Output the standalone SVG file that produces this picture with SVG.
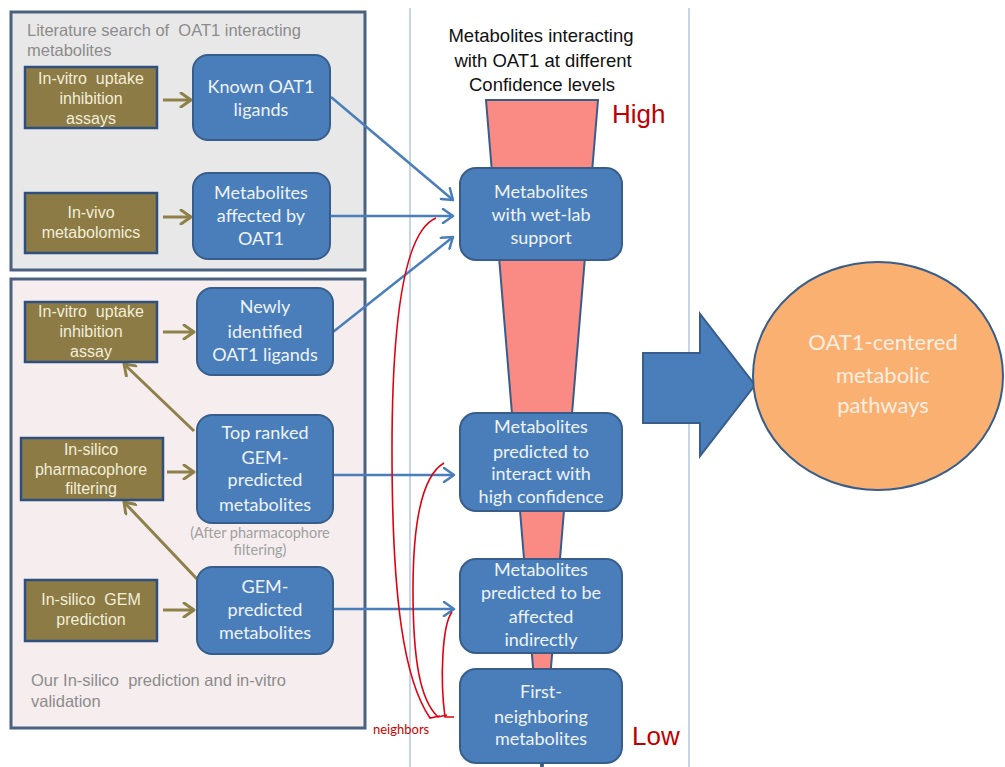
<svg xmlns="http://www.w3.org/2000/svg" width="1005" height="767" viewBox="0 0 1005 767">
<defs>
<style>
.panel{stroke:#4a6280;stroke-width:3}
.olive{fill:#8c7b45;stroke:#2f4f7f;stroke-width:2.5}
.blue{fill:#4a7ebb;stroke:#385d8a;stroke-width:2}
.ot{font-family:"Liberation Sans",Arial,sans-serif;font-size:16px;fill:#f2eed8;text-anchor:middle;white-space:pre}
.bt{font-family:Lato,"Open Sans",sans-serif;font-size:18px;fill:#eef3fa;text-anchor:middle}
.gt{font-family:"Liberation Sans",Arial,sans-serif;font-size:16.5px;fill:#8c8c8c;white-space:pre}
.ct{font-family:Lato,"Open Sans",sans-serif;font-size:14.5px;fill:#a0a0a0;text-anchor:middle}
.tt{font-family:"Liberation Sans",Arial,sans-serif;font-size:18.5px;fill:#111;text-anchor:middle}
.rt{font-family:"Liberation Sans",Arial,sans-serif;font-size:26px;fill:#c00000}
.pt{font-family:Lato,"Open Sans",sans-serif;font-size:22px;fill:#fdeee2;text-anchor:middle}
.oa{stroke:#8e8049;stroke-width:3;fill:none}
.ba{stroke:#4a7ebb;stroke-width:2.5;fill:none}
.rc{stroke:#e00010;stroke-width:1.6;fill:none}
.vl{stroke:#8eaacb;stroke-width:1}
</style>
<marker id="mo" markerUnits="userSpaceOnUse" markerWidth="14" markerHeight="16" viewBox="0 0 14 16" refX="12" refY="8" orient="auto">
<path d="M2,1 L12,8 L2,15" fill="none" stroke="#8e8049" stroke-width="3" stroke-linecap="round" stroke-linejoin="round"/>
</marker>
<marker id="mb" markerUnits="userSpaceOnUse" markerWidth="14" markerHeight="16" viewBox="0 0 14 16" refX="12" refY="8" orient="auto">
<path d="M2,1 L12,8 L2,15" fill="none" stroke="#4a7ebb" stroke-width="2.5" stroke-linecap="round" stroke-linejoin="round"/>
</marker>
</defs>
<rect width="1005" height="767" fill="#ffffff"/>

<g id="panels">
<rect id="panel-literature" class="panel" x="11" y="12" width="354" height="258" fill="#e8e8e8"/>
<rect id="panel-insilico" class="panel" x="11" y="279" width="354" height="449" fill="#f6eeee"/>
<text class="gt" x="27" y="36">Literature search of  OAT1 interacting</text>
<text class="gt" x="27" y="56">metabolites</text>
<text class="gt" x="31" y="686">Our In-silico  prediction and in-vitro</text>
<text class="gt" x="31" y="707">validation</text>
</g>

<g id="guides">
<line class="vl" x1="410" y1="8" x2="410" y2="767"/>
<line class="vl" x1="689" y1="8" x2="689" y2="767"/>
</g>

<g id="funnel">
<polygon points="486,100 598,100 542,776" fill="#f98a84" stroke="#385d8a" stroke-width="2"/>
</g>

<g id="title">
<text class="tt" x="541" y="42">Metabolites interacting</text>
<text class="tt" x="543" y="67">with OAT1 at different</text>
<text class="tt" x="542" y="91">Confidence levels</text>
<text class="rt" x="612" y="123">High</text>
<text class="rt" x="632" y="745">Low</text>
</g>

<g id="connectors">
<line class="oa" x1="163" y1="100" x2="191" y2="100" marker-end="url(#mo)"/>
<line class="oa" x1="163" y1="217" x2="191" y2="217" marker-end="url(#mo)"/>
<line class="oa" x1="163" y1="332" x2="194" y2="332" marker-end="url(#mo)"/>
<line class="oa" x1="167" y1="472" x2="194" y2="472" marker-end="url(#mo)"/>
<line class="oa" x1="163" y1="610" x2="194" y2="610" marker-end="url(#mo)"/>
<line class="oa" x1="194" y1="431" x2="124" y2="364" marker-end="url(#mo)"/>
<line class="oa" x1="197" y1="579" x2="124" y2="502" marker-end="url(#mo)"/>
<line class="ba" x1="331" y1="97" x2="453" y2="200" marker-end="url(#mb)"/>
<line class="ba" x1="331" y1="216" x2="453" y2="216" marker-end="url(#mb)"/>
<line class="ba" x1="333" y1="332" x2="453" y2="237" marker-end="url(#mb)"/>
<line class="ba" x1="333" y1="475" x2="454" y2="475" marker-end="url(#mb)"/>
<line class="ba" x1="333" y1="609" x2="454" y2="609" marker-end="url(#mb)"/>
<path class="rc" d="M436 218 C402 232 392 330 392 450 C392 600 404 680 430 718 L440 716"/>
<path class="rc" d="M444 463 C420 477 413 530 413 590 C413 660 420 700 438 717 L447 715"/>
<path class="rc" d="M452 612 C442 625 440 680 445 717 L454 717"/>
<text x="373" y="734" font-family="Lato,'Open Sans',sans-serif" font-size="13" fill="#d00000">neighbors</text>
</g>

<g id="n-assays1">
<rect class="olive" x="25" y="67" width="132" height="61"/>
<text class="ot" x="91" y="84">In-vitro  uptake</text>
<text class="ot" x="91" y="104">inhibition</text>
<text class="ot" x="91" y="124">assays</text>
</g>
<g id="n-known">
<rect class="blue" x="193" y="55" width="137" height="85" rx="15"/>
<text class="bt" x="261" y="93">Known OAT1</text>
<text class="bt" x="261" y="116">ligands</text>
</g>
<g id="n-invivo">
<rect class="olive" x="25" y="193" width="132" height="60"/>
<text class="ot" x="91" y="218">In-vivo</text>
<text class="ot" x="91" y="238">metabolomics</text>
</g>
<g id="n-affected">
<rect class="blue" x="193" y="173" width="137" height="86" rx="15"/>
<text class="bt" x="261" y="199">Metabolites</text>
<text class="bt" x="261" y="222">affected by</text>
<text class="bt" x="261" y="245">OAT1</text>
</g>
<g id="n-assay2">
<rect class="olive" x="25" y="302" width="132" height="60"/>
<text class="ot" x="91" y="317">In-vitro  uptake</text>
<text class="ot" x="91" y="337">inhibition</text>
<text class="ot" x="91" y="357">assay</text>
</g>
<g id="n-newly">
<rect class="blue" x="197" y="288" width="136" height="87" rx="15"/>
<text class="bt" x="265" y="313">Newly</text>
<text class="bt" x="265" y="338">identified</text>
<text class="bt" x="265" y="361">OAT1 ligands</text>
</g>
<g id="n-pharma">
<rect class="olive" x="21" y="438" width="142" height="62"/>
<text class="ot" x="91" y="455">In-silico</text>
<text class="ot" x="91" y="475">pharmacophore</text>
<text class="ot" x="91" y="494">filtering</text>
</g>
<g id="n-topranked">
<rect class="blue" x="197" y="415" width="136" height="108" rx="15"/>
<text class="bt" x="265" y="439">Top ranked</text>
<text class="bt" x="265" y="464">GEM-</text>
<text class="bt" x="265" y="486">predicted</text>
<text class="bt" x="265" y="511">metabolites</text>
<text class="ct" x="260" y="538">(After pharmacophore</text>
<text class="ct" x="260" y="555">filtering)</text>
</g>
<g id="n-gemprediction">
<rect class="olive" x="25" y="580" width="132" height="61"/>
<text class="ot" x="91" y="605">In-silico  GEM</text>
<text class="ot" x="91" y="625">prediction</text>
</g>
<g id="n-gempredicted">
<rect class="blue" x="197" y="567" width="136" height="87" rx="15"/>
<text class="bt" x="265" y="593">GEM-</text>
<text class="bt" x="265" y="616">predicted</text>
<text class="bt" x="265" y="639">metabolites</text>
</g>

<g id="n-wetlab">
<rect class="blue" x="460" y="168" width="162" height="92" rx="16"/>
<text class="bt" x="541" y="198">Metabolites</text>
<text class="bt" x="541" y="221">with wet-lab</text>
<text class="bt" x="541" y="244">support</text>
</g>
<g id="n-highconf">
<rect class="blue" x="460" y="413" width="162" height="98" rx="16"/>
<text class="bt" x="541" y="433">Metabolites</text>
<text class="bt" x="541" y="458">predicted to</text>
<text class="bt" x="541" y="480">interact with</text>
<text class="bt" x="541" y="503">high confidence</text>
</g>
<g id="n-indirect">
<rect class="blue" x="460" y="559" width="162" height="94" rx="16"/>
<text class="bt" x="541" y="576">Metabolites</text>
<text class="bt" x="541" y="599">predicted to be</text>
<text class="bt" x="541" y="623">affected</text>
<text class="bt" x="541" y="646">indirectly</text>
</g>
<g id="n-firstneighbor">
<rect class="blue" x="460" y="669" width="162" height="94" rx="16"/>
<text class="bt" x="541" y="698">First-</text>
<text class="bt" x="541" y="723">neighboring</text>
<text class="bt" x="541" y="745">metabolites</text>
</g>

<g id="n-bigarrow">
<polygon points="643,353 700,353 700,314 755,385 700,456 700,423 643,423" fill="#4a7ebb" stroke="#385d8a" stroke-width="2"/>
</g>
<g id="n-pathways">
<ellipse cx="878" cy="376" rx="125" ry="114" fill="#f9b071" stroke="#385d8a" stroke-width="2"/>
<text class="pt" x="883" y="350">OAT1-centered</text>
<text class="pt" x="883" y="383">metabolic</text>
<text class="pt" x="883" y="413">pathways</text>
</g>
</svg>
